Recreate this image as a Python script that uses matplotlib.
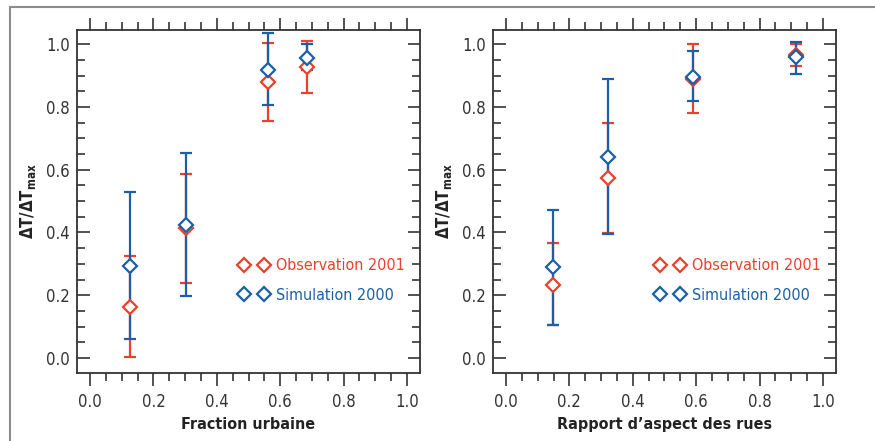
import matplotlib.pyplot as plt
from matplotlib.lines import Line2D
from matplotlib.patches import Rectangle
from matplotlib.ticker import MultipleLocator

plt.rcParams['font.family'] = ['DejaVu Sans']
plt.rcParams['font.stretch'] = 'condensed'

# Fraction urbaine panel
x_urb = [0.126, 0.302, 0.560, 0.685]
obs_urb = [0.163, 0.413, 0.880, 0.927]
obs_urb_lo = [0.003, 0.238, 0.755, 0.844]
obs_urb_hi = [0.324, 0.587, 1.005, 1.011]
sim_urb = [0.293, 0.425, 0.918, 0.957]
sim_urb_lo = [0.059, 0.198, 0.805, 0.917]
sim_urb_hi = [0.529, 0.653, 1.034, 1.000]

# Rapport d'aspect panel
x_asp = [0.149, 0.323, 0.589, 0.916]
obs_asp = [0.234, 0.573, 0.890, 0.965]
obs_asp_lo = [0.105, 0.397, 0.779, 0.930]
obs_asp_hi = [0.365, 0.748, 1.000, 1.001]
sim_asp = [0.289, 0.641, 0.896, 0.958]
sim_asp_lo = [0.105, 0.394, 0.818, 0.905]
sim_asp_hi = [0.472, 0.889, 0.979, 1.008]

labels = ['Observation 2001', 'Simulation 2000']
red = '#e8412c'
blue = '#1a5fa8'


def panel(ax, x, obs, obs_lo, obs_hi, sim, sim_lo, sim_hi, xlabel):
    series = [(obs, obs_lo, obs_hi, red), (sim, sim_lo, sim_hi, blue)]
    for y, lo, hi, c in series:
        err = [[v - l for v, l in zip(y, lo)], [h - v for v, h in zip(y, hi)]]
        ax.errorbar(x, y, yerr=err, fmt='D', color=c, ms=7, mfc='white',
                    mec=c, mew=1.6, elinewidth=1.6, capsize=4, capthick=1.6)

    ax.set_xlim(-0.041, 1.041)
    ax.set_ylim(-0.048, 1.045)
    ax.xaxis.set_major_locator(MultipleLocator(0.2))
    ax.xaxis.set_minor_locator(MultipleLocator(0.05))
    ax.yaxis.set_major_locator(MultipleLocator(0.2))
    ax.yaxis.set_minor_locator(MultipleLocator(0.05))
    ax.xaxis.set_major_formatter(plt.FormatStrFormatter('%.1f'))
    ax.yaxis.set_major_formatter(plt.FormatStrFormatter('%.1f'))
    ax.tick_params(axis='x', which='both', direction='out', top=True, bottom=True,
                   labeltop=False, color='#333333', width=1.2, labelsize=12, labelcolor='#333333')
    ax.tick_params(axis='y', which='both', direction='in', left=True, right=True,
                   color='#333333', width=1.2, labelsize=12, labelcolor='#333333')
    ax.tick_params(which='major', length=9, pad=5)
    ax.tick_params(which='minor', length=6)
    for s in ax.spines.values():
        s.set_color('#333333')
        s.set_linewidth(1.3)

    ax.set_xlabel(xlabel, fontsize=11.5, fontweight='bold', color='#222222', labelpad=5)
    ax.set_ylabel(r'$\mathbf{\Delta T/\Delta T_{max}}$', fontsize=12, color='#222222', labelpad=6)

    handles = [Line2D([0], [0], linestyle='none', marker='D', ms=7, mfc='white',
                      mec=c, mew=1.6) for c in (red, blue)]
    leg = ax.legend(handles, labels, numpoints=2, frameon=False, fontsize=11.5,
                    handlelength=1.9, handletextpad=0.4, labelspacing=0.9,
                    loc='center left', bbox_to_anchor=(0.43, 0.27))
    for t, c in zip(leg.get_texts(), (red, blue)):
        t.set_color(c)


fig = plt.figure(figsize=(8.75, 4.41), dpi=100)
ax1 = fig.add_axes([0.088, 0.154, 0.392, 0.778])
ax2 = fig.add_axes([0.5634, 0.154, 0.392, 0.778])

panel(ax1, x_urb, obs_urb, obs_urb_lo, obs_urb_hi, sim_urb, sim_urb_lo, sim_urb_hi,
      'Fraction urbaine')
panel(ax2, x_asp, obs_asp, obs_asp_lo, obs_asp_hi, sim_asp, sim_asp_lo, sim_asp_hi,
      'Rapport d\u2019aspect des rues')

# outer frame (top and left edges visible)
fig.add_artist(Rectangle((10 / 875, -0.1), 1.2, 1.1 - 7 / 441, transform=fig.transFigure,
                         fill=False, edgecolor='#8c8c8c', linewidth=1.5))

fig.savefig('out.png', dpi=100)
